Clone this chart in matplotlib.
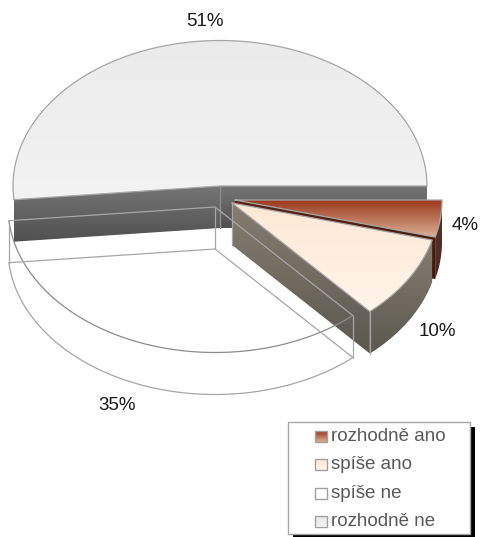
import numpy as np
import matplotlib
matplotlib.use("Agg")
import matplotlib.pyplot as plt
from matplotlib.colors import LinearSegmentedColormap
from matplotlib.patches import Polygon, Rectangle

categories = ["rozhodně ano", "spíše ano", "spíše ne", "rozhodně ne"]
shares = [4.1, 9.3, 35.1, 51.5]
pct_labels = ["4%", "10%", "35%", "51%"]

plt.rcParams["font.family"] = ["Liberation Sans", "DejaVu Sans"]

W, H = 482, 537
RX, RY = 207, 145.5
DEPTH = 42
LINE = "#a6a6a6"

fig = plt.figure(figsize=(W / 100, H / 100), dpi=100)
ax = fig.add_axes([0, 0, 1, 1])
ax.set_xlim(0, W)
ax.set_ylim(H, 0)
ax.axis("off")


def arc(cx, cy, a0, a1, dy=0):
    t = np.radians(np.linspace(a0, a1, 80))
    return np.column_stack([cx + RX * np.cos(t), cy + dy + RY * np.sin(t)])


def grad(pts, top, bottom, z):
    # vertical gradient clipped to the polygon
    pts = np.asarray(pts)
    x0, x1 = pts[:, 0].min(), pts[:, 0].max()
    y0, y1 = pts[:, 1].min(), pts[:, 1].max()
    cmap = LinearSegmentedColormap.from_list("g", [top, bottom])
    im = ax.imshow(np.linspace(0, 1, 128).reshape(-1, 1), cmap=cmap, aspect="auto",
                   extent=(x0, x1, y1, y0), zorder=z, interpolation="bilinear")
    patch = Polygon(pts, closed=True, transform=ax.transData, fc="none", ec="none")
    ax.add_patch(patch)
    im.set_clip_path(patch)


def radial_wall(cx, cy, a):
    p = arc(cx, cy, a, a, 0)[0]
    return [(cx, cy), tuple(p), (p[0], p[1] + DEPTH), (cx, cy + DEPTH)]


def outer_wall(cx, cy, a0, a1):
    return np.vstack([arc(cx, cy, a0, a1), arc(cx, cy, a1, a0, DEPTH)])


def top_face(cx, cy, a0, a1):
    return np.vstack([[(cx, cy)], arc(cx, cy, a0, a1)])


def outline(pts, color=LINE, lw=0.9, z=10):
    pts = np.asarray(pts)
    ax.plot(pts[:, 0], pts[:, 1], color=color, lw=lw, zorder=z, solid_capstyle="round")


edges = np.cumsum([0] + shares) / sum(shares) * 360
red_a = edges[0], edges[1]
peach_a = edges[1], edges[2]
white_a = edges[2], edges[3]
gray_a = edges[3], edges[4]

gray_c = (220, 186)
red_c = (235, 200)
peach_c = (232, 203)
white_c = (215, 207)

# grey slice, back of the pie
grad(top_face(*gray_c, *gray_a), "#ebebeb", "#f3f3f3", 1)
outline(arc(*gray_c, *gray_a), z=2)
grad(radial_wall(*gray_c, gray_a[0]), "#757575", "#505050", 2)
grad(radial_wall(*gray_c, 360), "#757575", "#505050", 2)
ax.plot([gray_c[0]] * 2, [gray_c[1], gray_c[1] + DEPTH], color="#8c8c8c", lw=1, zorder=3)
wp = radial_wall(*gray_c, gray_a[0])
outline([wp[1], wp[0], radial_wall(*gray_c, 360)[1]], z=3)

# red slice
grad(outer_wall(*red_c, *red_a), "#5a3428", "#4a2a20", 4)
grad(radial_wall(*red_c, red_a[1]), "#5a2412", "#401608", 4)
grad(top_face(*red_c, *red_a), "#98361a", "#dcae94", 5)
outline(np.vstack([top_face(*red_c, *red_a), [red_c]]), z=5)

# peach slice
grad(radial_wall(*peach_c, peach_a[1]), "#857d70", "#5c5850", 6)
grad(outer_wall(*peach_c, *peach_a), "#857d70", "#5c5850", 6)
grad(top_face(*peach_c, *peach_a), "#fee8d4", "#fff5ea", 7)
outline(np.vstack([top_face(*peach_c, *peach_a), [peach_c]]), z=7)
end = arc(*peach_c, peach_a[1], peach_a[1])[0]
outline([end, (end[0], end[1] + DEPTH)], z=7)
outline([peach_c, (peach_c[0], peach_c[1] + DEPTH)], z=7)

# white slice is only outlines, everything shows through
c_x, c_y = white_c
p0 = arc(*white_c, white_a[0], white_a[0])[0]
p1 = arc(*white_c, white_a[1], white_a[1])[0]
outline(arc(*white_c, *white_a), color="#8c8c8c")
outline(arc(*white_c, *white_a, DEPTH))
outline([p0, white_c, p1])
outline([(p0[0], p0[1] + DEPTH), (c_x, c_y + DEPTH), (p1[0], p1[1] + DEPTH)])
for px, py in [p0, white_c, p1]:
    outline([(px, py), (px, py + DEPTH)])

# percent labels
label_xy = [(465, 226), (437, 332), (117, 405), (205, 21)]
for txt, (lx, ly) in zip(pct_labels, label_xy):
    ax.text(lx, ly, txt, ha="center", va="center", fontsize=13.5, color="#1a1a1a", zorder=12)

# legend
ax.add_patch(Rectangle((293, 427), 182, 112, fc="black", ec="none", zorder=13))
ax.add_patch(Rectangle((288, 422), 182, 112, fc="white", ec="#a6a6a6", lw=1, zorder=14))
swatches = [("#98361a", "#dcae94"), ("#fee8d4", "#fff5ea"), ("#ffffff", "#ffffff"), ("#e6e6e6", "#f3f3f3")]
row_y = [436.5, 464.5, 493, 521]
for name, (c0, c1), yy in zip(categories, swatches, row_y):
    sq = [(314.5, yy - 5.5), (326.5, yy - 5.5), (326.5, yy + 5.5), (314.5, yy + 5.5)]
    grad(sq, c0, c1, 15)
    ax.add_patch(Rectangle((314.5, yy - 5.5), 12, 11, fc="none", ec="#a0a0a0", lw=1, zorder=16))
    ax.text(331, yy, name, ha="left", va="center", fontsize=13.5, color="#595959", zorder=16)

ax.set_xlim(0, W)
ax.set_ylim(H, 0)
fig.savefig("out.png", dpi=100)
